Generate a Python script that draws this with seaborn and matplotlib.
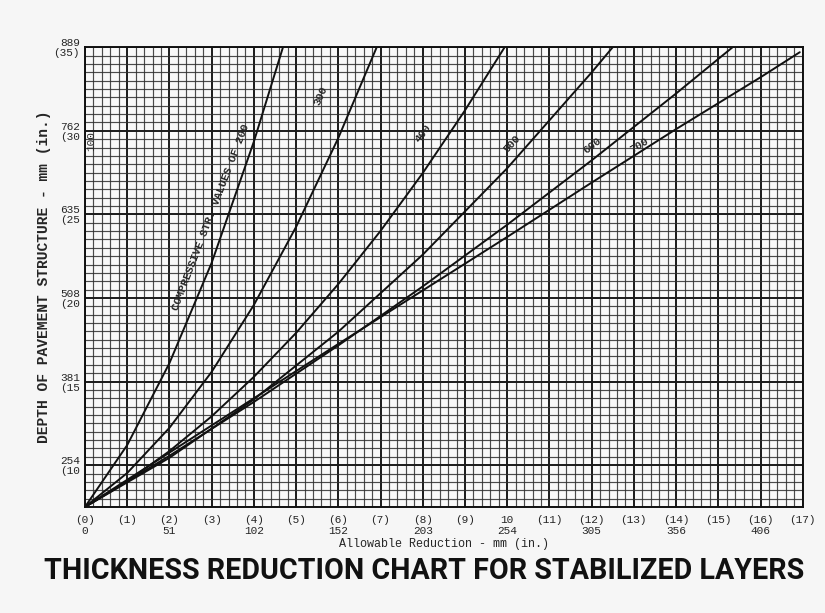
import numpy as np
import pandas as pd
import matplotlib
matplotlib.use("Agg")
import matplotlib.pyplot as plt
import seaborn as sns

# curves (x = allowable reduction in., y = depth in.)
x_200 = [0, 1, 2, 3, 4, 4.69]
y_200 = [7.5, 11.2, 16.1, 22.1, 29.35, 35.0]
x_300 = [0, 1, 2, 3, 4, 5, 6, 6.91]
y_300 = [7.5, 9.53, 12.23, 15.58, 19.58, 24.25, 29.57, 35.0]
x_400 = [0, 1, 2, 3, 4, 5, 6, 7, 8, 9, 9.94]
y_400 = [7.5, 9.03, 10.84, 12.92, 15.28, 17.91, 20.83, 24.01, 27.47, 31.22, 35.0]
x_500 = [0, 2, 4, 6, 8, 10, 12, 12.5]
y_500 = [7.5, 10.44, 13.93, 17.98, 22.59, 27.76, 33.49, 35.0]
x_600 = [0, 2, 4, 6, 8, 10, 12, 14, 15.34]
y_600 = [7.5, 10.56, 13.78, 17.16, 20.69, 24.38, 28.23, 32.23, 35.0]
x_700 = [0, 2, 4, 6, 8, 10, 12, 14, 16, 16.93]
y_700 = [7.5, 10.75, 14.0, 17.25, 20.45, 23.65, 26.9, 30.1, 33.2, 34.7]

curve_names = ["200", "300", "400", "500", "600", "700"]
curve_labels = ["COMPRESSIVE STR. VALUES OF 200", "300", "400", "500", "600", "700"]

x_ticks_in = list(range(18))
x_ticks_mm = {0: "0", 2: "51", 4: "102", 6: "152", 8: "203", 10: "254",
              12: "305", 14: "356", 16: "406"}
y_ticks_in = [35, 30, 25, 20, 15, 10]
y_ticks_mm = ["889", "762", "635", "508", "381", "254"]
y_ticks_par = ["(35)", "(30", "(25", "(20", "(15", "(10"]

frames = []
for name, xs, ys in zip(curve_names,
                        [x_200, x_300, x_400, x_500, x_600, x_700],
                        [y_200, y_300, y_400, y_500, y_600, y_700]):
    frames.append(pd.DataFrame({"reduction": xs, "depth": ys, "curve": name}))
df = pd.concat(frames, ignore_index=True)

sns.set_style("white")
plt.rcParams["font.family"] = ["Liberation Mono", "DejaVu Sans Mono"]

fig = plt.figure(figsize=(8.25, 6.13), dpi=100, facecolor="#f6f6f6")
ax = fig.add_axes([0.103, 0.173, 0.870, 0.750])
ax.set_facecolor("#f9f9f9")

sns.lineplot(data=df, x="reduction", y="depth", hue="curve", sort=False,
             palette=["#111111"] * 6, legend=False, linewidth=1.4, ax=ax,
             zorder=5)

ax.set_xlim(0, 17)
ax.set_ylim(7.5, 35)

# graph paper grid
ax.set_xticks(x_ticks_in)
ax.set_xticks(np.arange(0, 17.01, 0.2), minor=True)
ax.set_yticks(y_ticks_in)
ax.set_yticks(np.arange(7.5, 35.01, 0.5), minor=True)
ax.grid(which="minor", color="#2e2e2e", linewidth=0.85, alpha=0.85)
ax.grid(which="major", color="#1a1a1a", linewidth=1.4)
ax.tick_params(which="both", length=0)
for s in ax.spines.values():
    s.set_color("#111111")
    s.set_linewidth(1.4)

xlabels = []
for v in x_ticks_in:
    top = str(v) if v == 10 else f"({v})"
    xlabels.append(top + "\n" + x_ticks_mm.get(v, ""))
ax.set_xticklabels(xlabels, fontsize=8, linespacing=1.15)
ax.tick_params(axis="x", pad=6)
ax.set_yticklabels([f"{m}\n{p}" for m, p in zip(y_ticks_mm, y_ticks_par)],
                   fontsize=8, linespacing=1.0)

ax.set_xlabel("Allowable Reduction - mm (in.)", fontsize=8.5, labelpad=1)
ax.set_ylabel("DEPTH OF PAVEMENT STRUCTURE - mm (in.)", fontsize=10.5,
              fontweight="bold", labelpad=2)

# curve labels
ax.text(0.15, 29.4, "100", rotation=90, fontsize=8, ha="center", va="center", zorder=6)
label_pos = [(3.1, 24.7, 69), (5.7, 32.0, 66), (8.1, 29.7, 53),
             (10.2, 29.0, 47), (12.1, 28.9, 38), (13.2, 28.9, 31)]
for txt, (lx, ly, rot) in zip(curve_labels, label_pos):
    ax.text(lx, ly, txt, rotation=rot, fontsize=8, fontweight="bold",
            ha="center", va="bottom", rotation_mode="anchor", zorder=6)

title = fig.text(0.514, 0.069, "THICKNESS REDUCTION CHART FOR STABILIZED LAYERS",
                 family=["Roboto", "DejaVu Sans"], fontweight="bold",
                 fontstretch="condensed", fontsize=30, ha="center", va="center",
                 color="#111111")
# fit the title to the width it has in the reference
fig.canvas.draw()
w = title.get_window_extent().width
if w > 755:
    title.set_fontsize(30 * 755 / w)

fig.savefig("out.png", dpi=100, facecolor=fig.get_facecolor())
